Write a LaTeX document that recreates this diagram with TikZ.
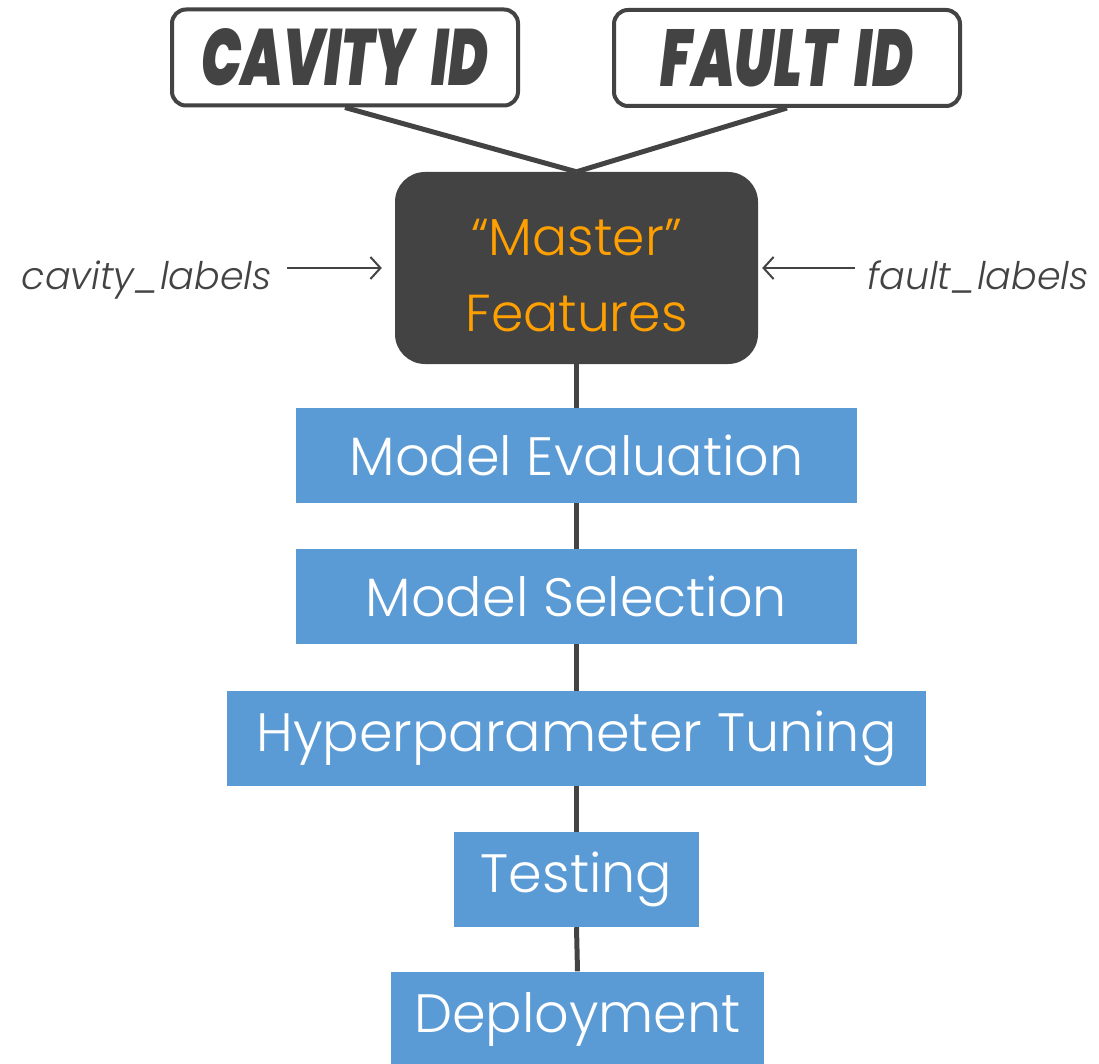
\documentclass[tikz,border=0pt]{standalone}
\usepackage{fontspec}
\setmainfont{Poppins}[UprightFont=* Light, ItalicFont=* Light Italic, BoldFont=* Black, BoldItalicFont=* Black Italic]
\usetikzlibrary{arrows.meta}
\definecolor{ink}{HTML}{434343}
\definecolor{stepblue}{HTML}{5B9BD5}
\definecolor{gold}{HTML}{FFA000}
\begin{document}
\begin{tikzpicture}[x=1pt,y=-1pt,
  idbox/.style={draw=ink, line width=4pt, fill=white, rounded corners=14pt,
    minimum width=346pt, minimum height=96pt, inner sep=0pt},
  masterbox/.style={fill=ink, rounded corners=30pt, minimum width=363pt,
    minimum height=192pt, inner sep=0pt},
  mastertext/.style={text=gold, align=center, inner sep=0pt,
    font=\fontsize{52}{76}\selectfont},
  stepbox/.style={fill=stepblue, text=white, minimum height=95pt, inner sep=0pt,
    font=\fontsize{54}{60}\selectfont},
  sidelabel/.style={text=ink, font=\fontsize{38}{44}\selectfont\itshape, inner sep=0pt},
  joiner/.style={draw=ink, line width=5pt},
  feed/.style={draw=ink, line width=2pt, -{Straight Barb[length=10pt,width=22pt]}}
]
\useasboundingbox (0,0) rectangle (1099,1064);

% linked pipeline stages
\node[stepbox, minimum width=561pt] (eval) at (576.5,455.5) {Model Evaluation};
\node[stepbox, minimum width=561pt] (select) at (576.5,596.5) {Model Selection};
\node[stepbox, minimum width=699pt] (tune) at (576.5,738.5) {Hyperparameter Tuning};
\node[stepbox, minimum width=245pt] (test) at (576.5,879.5) {Testing};
\node[stepbox, minimum width=373pt] (deploy) at (577.5,1019) {Deployment};

% central features block
\node[masterbox] (master) at (576.5,268) {};
\node[mastertext] (mastertxt) at ([yshift=-8pt]master.center) {“Master”\\Features};

% identifier boxes
\node[idbox] (cavity) at (345,57.5)
  {\resizebox{287pt}{57pt}{\textcolor{ink}{\bfseries\itshape CAVITY\,\,ID}}};
\node[idbox] (fault) at (787,58)
  {\resizebox{253pt}{57pt}{\textcolor{ink}{\bfseries\itshape FAULT\,\,ID}}};

% side inputs
\node[sidelabel, anchor=base east] (cl) at (272,290) {cavity\_labels};
\node[sidelabel, anchor=base west] (fl) at (867,290) {fault\_labels};

% connectors
\draw[joiner] (cavity.south) -- (master.north);
\draw[joiner] (fault.south) -- (master.north);
\draw[joiner] (master.south) -- (eval.north);
\draw[joiner] (eval.south) -- (select.north);
\draw[joiner] (select.south) -- (tune.north);
\draw[joiner] (tune.south) -- (test.north);
\draw[joiner] (test.south) -- (deploy.north);
\draw[feed] (cl.east |- master.west) ++(15pt,0) coordinate (cla) -- ([xshift=-13pt]master.west);
\draw[feed] (fl.west |- master.east) ++(-12pt,0) coordinate (fla) -- ([xshift=4pt]master.east);
\end{tikzpicture}
\end{document}
